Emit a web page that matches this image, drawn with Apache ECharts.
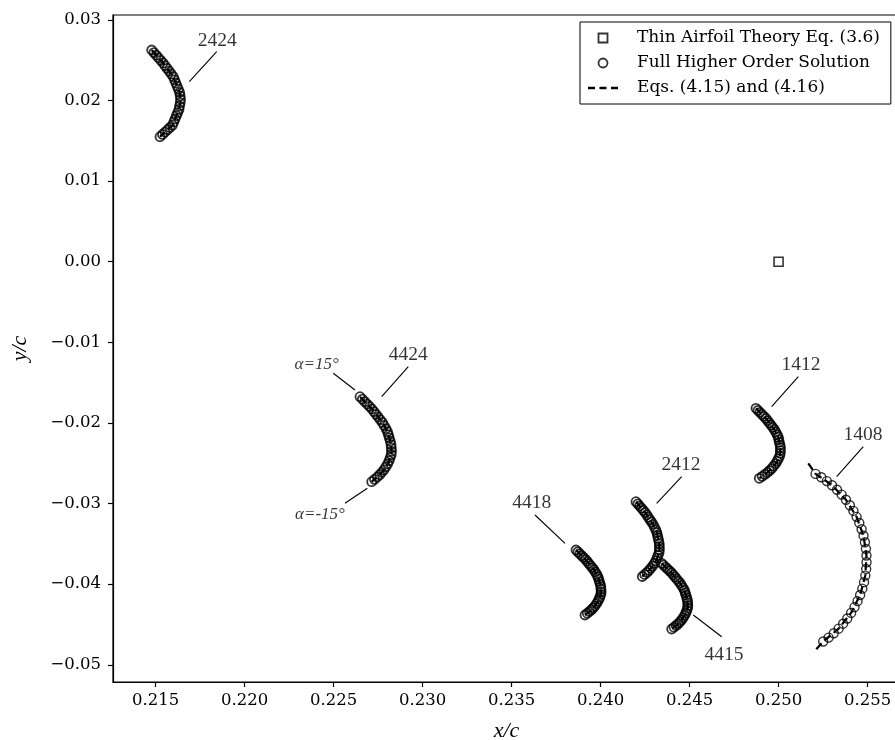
<!DOCTYPE html>
<html>
<head>
<meta charset="utf-8">
<script src="https://cdn.jsdelivr.net/npm/echarts@6/dist/echarts.min.js"></script>
<style>html,body{margin:0;padding:0;background:#fff}#c{width:895px;height:740px}</style>
</head>
<body>
<div id="c"></div>
<script>
// ---------- data ----------
const airfoils = ['2424', '4424', '4418', '2412', '4415', '1412', '1408'];

const x2424 = [0.214775,0.214902,0.215029,0.215156,0.215283,0.215410,0.215525,0.215641,0.215756,0.215872,0.215987,0.216059,0.216131,0.216202,0.216274,0.216346,0.216373,0.216398,0.216378,0.216342,0.216309,0.216236,0.216163,0.216090,0.216017,0.215944,0.215804,0.215663,0.215523,0.215382,0.215242];
const y2424 = [0.026259,0.025939,0.025619,0.025299,0.024979,0.024659,0.024318,0.023977,0.023637,0.023296,0.022955,0.022562,0.022168,0.021775,0.021381,0.020988,0.020569,0.020149,0.019730,0.019310,0.018891,0.018502,0.018112,0.017723,0.017333,0.016944,0.016656,0.016369,0.016081,0.015793,0.015505];

const x4424 = [0.226480,0.226614,0.226748,0.226882,0.227016,0.227150,0.227267,0.227384,0.227502,0.227619,0.227736,0.227835,0.227941,0.228025,0.228075,0.228124,0.228182,0.228226,0.228240,0.228253,0.228235,0.228173,0.228113,0.228036,0.227930,0.227824,0.227708,0.227591,0.227454,0.227295,0.227137];
const y4424 = [-0.016745,-0.017049,-0.017353,-0.017656,-0.017960,-0.018264,-0.018598,-0.018932,-0.019265,-0.019599,-0.019933,-0.020318,-0.020704,-0.021089,-0.021475,-0.021860,-0.022274,-0.022689,-0.023103,-0.023518,-0.023932,-0.024312,-0.024691,-0.025071,-0.025451,-0.025830,-0.026122,-0.026414,-0.026705,-0.026997,-0.027289];

const x4418 = [0.238617,0.238725,0.238832,0.238939,0.239046,0.239154,0.239248,0.239341,0.239435,0.239528,0.239622,0.239701,0.239784,0.239852,0.239891,0.239931,0.239977,0.240012,0.240021,0.240032,0.240016,0.239966,0.239915,0.239853,0.239766,0.239680,0.239585,0.239491,0.239379,0.239251,0.239123];
const y4418 = [-0.035761,-0.035993,-0.036225,-0.036458,-0.036690,-0.036922,-0.037177,-0.037432,-0.037686,-0.037941,-0.038196,-0.038491,-0.038786,-0.039081,-0.039376,-0.039671,-0.039989,-0.040307,-0.040624,-0.040942,-0.041260,-0.041550,-0.041840,-0.042130,-0.042421,-0.042711,-0.042934,-0.043156,-0.043379,-0.043601,-0.043824];

const x2412 = [0.241988,0.242092,0.242194,0.242297,0.242400,0.242503,0.242592,0.242681,0.242769,0.242858,0.242947,0.243020,0.243099,0.243161,0.243194,0.243228,0.243268,0.243298,0.243301,0.243306,0.243284,0.243228,0.243172,0.243104,0.243012,0.242920,0.242821,0.242723,0.242607,0.242475,0.242342];
const y2412 = [-0.029770,-0.030037,-0.030304,-0.030572,-0.030839,-0.031106,-0.031399,-0.031692,-0.031986,-0.032279,-0.032572,-0.032912,-0.033251,-0.033591,-0.033930,-0.034270,-0.034635,-0.035001,-0.035367,-0.035732,-0.036098,-0.036432,-0.036766,-0.037100,-0.037434,-0.037768,-0.038024,-0.038280,-0.038536,-0.038792,-0.039048];

const x4415 = [0.243432,0.243543,0.243654,0.243765,0.243875,0.243986,0.244083,0.244180,0.244277,0.244374,0.244471,0.244553,0.244640,0.244711,0.244752,0.244795,0.244843,0.244881,0.244892,0.244905,0.244890,0.244841,0.244791,0.244729,0.244642,0.244556,0.244460,0.244366,0.244253,0.244124,0.243994];
const y4415 = [-0.037410,-0.037645,-0.037879,-0.038114,-0.038349,-0.038584,-0.038841,-0.039099,-0.039356,-0.039614,-0.039871,-0.040169,-0.040468,-0.040766,-0.041064,-0.041363,-0.041684,-0.042005,-0.042326,-0.042647,-0.042968,-0.043261,-0.043555,-0.043848,-0.044141,-0.044435,-0.044660,-0.044885,-0.045110,-0.045335,-0.045559];

const x1412 = [0.248731,0.248843,0.248954,0.249066,0.249177,0.249289,0.249384,0.249478,0.249573,0.249668,0.249762,0.249839,0.249920,0.249983,0.250013,0.250045,0.250082,0.250107,0.250101,0.250098,0.250064,0.249993,0.249921,0.249835,0.249722,0.249609,0.249489,0.249371,0.249232,0.249075,0.248916];
const y1412 = [-0.018184,-0.018434,-0.018684,-0.018934,-0.019184,-0.019434,-0.019709,-0.019983,-0.020258,-0.020532,-0.020806,-0.021124,-0.021442,-0.021760,-0.022077,-0.022395,-0.022737,-0.023079,-0.023422,-0.023764,-0.024106,-0.024418,-0.024731,-0.025043,-0.025356,-0.025669,-0.025908,-0.026148,-0.026388,-0.026627,-0.026867];

const x1408 = [0.252078,0.252401,0.252712,0.253005,0.253286,0.253545,0.253786,0.254007,0.254206,0.254384,0.254538,0.254667,0.254774,0.254854,0.254910,0.254940,0.254944,0.254923,0.254875,0.254803,0.254706,0.254584,0.254438,0.254268,0.254076,0.253861,0.253628,0.253374,0.253100,0.252812,0.252507];
const y1408 = [-0.026318,-0.026741,-0.027213,-0.027728,-0.028292,-0.028890,-0.029532,-0.030205,-0.030911,-0.031647,-0.032404,-0.033184,-0.033985,-0.034796,-0.035618,-0.036447,-0.037280,-0.038110,-0.038934,-0.039749,-0.040554,-0.041341,-0.042107,-0.042849,-0.043565,-0.044251,-0.044899,-0.045513,-0.046092,-0.046623,-0.047109];

// Eqs. (4.15)/(4.16) curve for 1408 (visible beyond the markers)
const eqX1408 = [0.251670,0.252078,0.253005,0.253786,0.254384,0.254774,0.254940,0.254875,0.254584,0.254076,0.253374,0.252507,0.252046];
const eqY1408 = [-0.025006,-0.026318,-0.027728,-0.029532,-0.031647,-0.033985,-0.036447,-0.038934,-0.041341,-0.043565,-0.045513,-0.047109,-0.048252];

// Thin airfoil theory point
const thinX = [0.250];
const thinY = [0.000];

// annotations
const labelText = ['2424', '4424', '4418', '2412', '4415', '1412', '1408', 'α=15°', 'α=-15°'];
const labelX = [0.218461, 0.229194, 0.236127, 0.244517, 0.246933, 0.251260, 0.254743, 0.224047, 0.224232];
const labelY = [0.027350, -0.011573, -0.029968, -0.025217, -0.048785, -0.012813, -0.021496, -0.012813, -0.031420];
const leaderX0 = [0.216888, 0.227699, 0.236313, 0.243151, 0.245208, 0.249613, 0.253265, 0.224979, 0.225637];
const leaderY0 = [0.022327, -0.016745, -0.031419, -0.029968, -0.043823, -0.017986, -0.026669, -0.013843, -0.029968];
const leaderX1 = [0.218428, 0.229194, 0.237999, 0.244556, 0.246804, 0.251108, 0.254760, 0.226199, 0.226890];
const leaderY1 = [0.026048, -0.013024, -0.034930, -0.026669, -0.046515, -0.014265, -0.022947, -0.015914, -0.028107];

// ---------- chart ----------
const FONT = 'DejaVu Serif';
const TIMES = 'Liberation Serif';
const LEG_THIN = 'Thin Airfoil Theory Eq. (3.6)';
const LEG_FULL = 'Full Higher Order Solution';
const LEG_EQ = 'Eqs. (4.15) and (4.16)';

const arcX = {'2424': x2424, '4424': x4424, '4418': x4418, '2412': x2412, '4415': x4415, '1412': x1412, '1408': x1408};
const arcY = {'2424': y2424, '4424': y4424, '4418': y4418, '2412': y2412, '4415': y4415, '1412': y1412, '1408': y1408};
const zip = (xs, ys) => xs.map((v, i) => [v, ys[i]]);

const series = [];

airfoils.forEach(a => {
  const ex = a === '1408' ? eqX1408 : arcX[a];
  const ey = a === '1408' ? eqY1408 : arcY[a];
  series.push({
    type: 'line', name: LEG_EQ, data: zip(ex, ey), symbol: 'none', showSymbol: false,
    itemStyle: {color: '#000'},
    lineStyle: {color: '#000', width: 2.2, type: [8, 4]}, z: 2, silent: true
  });
});
airfoils.forEach(a => {
  const sparse = a === '1408';
  series.push({
    type: 'scatter', name: LEG_FULL, data: zip(arcX[a], arcY[a]), symbol: 'circle',
    symbolSize: 9,
    itemStyle: {color: 'rgba(0,0,0,0)', borderColor: '#000', borderWidth: sparse ? 1.4 : 1.8},
    z: 3, silent: true
  });
});
series.push({
  type: 'scatter', name: LEG_THIN, data: zip(thinX, thinY), symbol: 'rect', symbolSize: 9,
  itemStyle: {color: 'rgba(0,0,0,0)', borderColor: '#000', borderWidth: 1.6}, z: 3, silent: true
});
labelText.forEach((t, i) => {
  series.push({
    type: 'line', name: 'leader' + i, data: [[leaderX0[i], leaderY0[i]], [leaderX1[i], leaderY1[i]]],
    symbol: 'none', showSymbol: false, lineStyle: {color: '#000', width: 1.1}, z: 4, silent: true
  });
});
series.push({
  type: 'scatter', name: 'labels', symbolSize: 1, itemStyle: {color: 'rgba(0,0,0,0)'}, z: 5, silent: true,
  data: labelText.map((t, i) => {
    const alpha = t.indexOf('α') === 0;
    return {
      value: [labelX[i], labelY[i]],
      label: {
        show: true, position: 'inside', formatter: t, color: '#000',
        fontFamily: TIMES, fontStyle: alpha ? 'italic' : 'normal', fontSize: alpha ? 17 : 19.5
      }
    };
  })
});

const axisLineStyle = {color: '#000', width: 1.2};
const option = {
  animation: false,
  backgroundColor: '#fff',
  textStyle: {fontFamily: FONT},
  grid: {
    left: 113, top: 15, width: 787, height: 667, show: true, borderColor: '#000', borderWidth: 1.2,
    backgroundColor: 'rgba(0,0,0,0)', containLabel: false, outerBoundsMode: 'none'
  },
  legend: {
    orient: 'vertical', left: 580, top: 22, itemWidth: 30, itemHeight: 9, itemGap: 5,
    padding: [6, 11, 6, 8], borderColor: '#000', borderWidth: 1, borderRadius: 0, backgroundColor: '#fff',
    selectedMode: false, symbolKeepAspect: true,
    textStyle: {fontFamily: FONT, fontSize: 17, color: '#000', lineHeight: 20, padding: [0, 0, 0, 14]},
    data: [
      {name: LEG_THIN, icon: 'path://M0,0H10V10H0Z',
        itemStyle: {color: 'rgba(0,0,0,0)', borderColor: '#000', borderWidth: 1.8}},
      {name: LEG_FULL, icon: 'circle',
        itemStyle: {color: 'rgba(0,0,0,0)', borderColor: '#000', borderWidth: 1.8}},
      {name: LEG_EQ, icon: 'path://M0,0H7V2.4H0Z M11.5,0H18.5V2.4H11.5Z M23,0H30V2.4H23Z',
        itemStyle: {color: '#000', borderWidth: 0}}
    ]
  },
  xAxis: {
    type: 'value', min: 0.2126006, max: 0.256824, minInterval: 0.005, maxInterval: 0.005, splitNumber: 9,
    axisLine: {show: true, onZero: false, lineStyle: axisLineStyle},
    axisTick: {show: true, length: 5, lineStyle: axisLineStyle},
    axisLabel: {
      show: true, margin: 10, color: '#000', fontFamily: FONT, fontSize: 16.5,
      showMinLabel: false, showMaxLabel: false, formatter: v => v.toFixed(3)
    },
    splitLine: {show: false},
    name: 'x/c', nameLocation: 'middle', nameGap: 38,
    nameTextStyle: {fontFamily: TIMES, fontStyle: 'italic', fontSize: 22, color: '#000'}
  },
  yAxis: {
    type: 'value', min: -0.052133, max: 0.030600, minInterval: 0.01, maxInterval: 0.01, splitNumber: 8,
    axisLine: {show: true, onZero: false, lineStyle: axisLineStyle},
    axisTick: {show: true, length: 5, lineStyle: axisLineStyle},
    axisLabel: {
      show: true, margin: 12, color: '#000', fontFamily: FONT, fontSize: 16.5,
      showMinLabel: false, showMaxLabel: false,
      formatter: v => (Math.abs(v) < 1e-9 ? 0 : v).toFixed(2).replace('-', '\u2212')
    },
    splitLine: {show: false},
    name: 'y/c', nameLocation: 'middle', nameGap: 82, nameRotate: 90,
    nameTextStyle: {fontFamily: TIMES, fontStyle: 'italic', fontSize: 22, color: '#000'}
  },
  series: series
};

const chart = echarts.init(document.getElementById('c'), null, {renderer: 'canvas', width: 895, height: 740});
chart.setOption(option);
</script>
</body>
</html>
